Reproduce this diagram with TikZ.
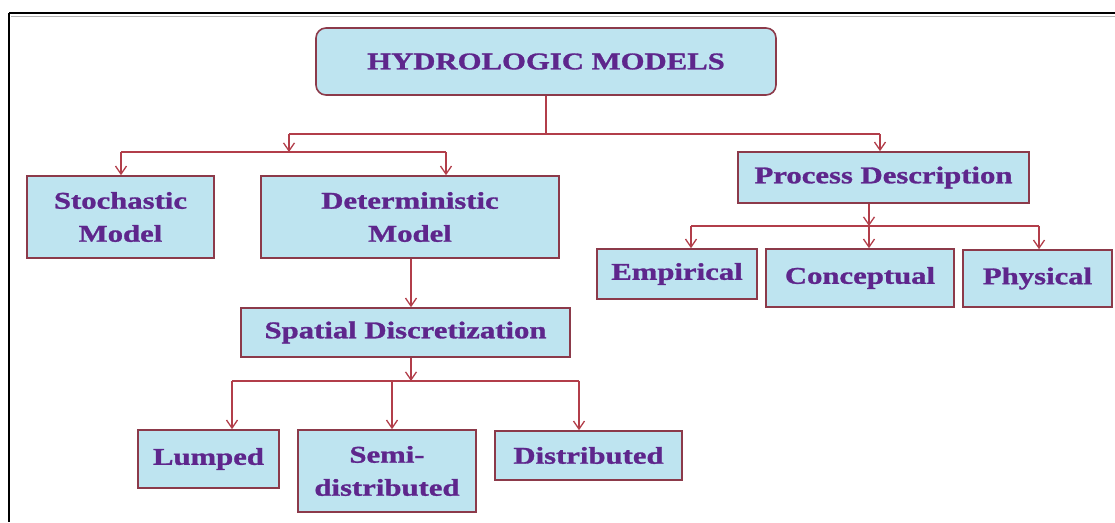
\documentclass[tikz,border=0pt]{standalone}
\usepackage{fontspec}
\newfontfamily\lblfont{Liberation Serif}[FakeStretch=1.28,FakeBold=1.2]
\usetikzlibrary{arrows.meta}
\definecolor{boxfill}{RGB}{190,228,240}
\definecolor{boxline}{RGB}{140,58,74}
\definecolor{conn}{RGB}{178,62,74}
\definecolor{txt}{RGB}{94,38,140}
\tikzset{
  x=1pt, y=-1pt,
  mbox/.style={draw=boxline, line width=1.6pt, fill=boxfill, inner sep=0pt,
    align=center, text=txt, font=\lblfont\bfseries\fontsize{24}{33}\selectfont},
  link/.style={draw=conn, line width=1.3pt},
  arr/.style={link, -{Straight Barb[length=8pt,width=11pt,line width=1.3pt]}},
}
\begin{document}
\begin{tikzpicture}
\useasboundingbox (0,0) rectangle (1115,522);
% frame
\draw[gray!60, line width=1pt] (11,16) -- (1115,16);
\draw[black, line width=2.5pt] (9,13) -- (1115,13);
\draw[black, line width=2pt] (9,13) -- (9,522);

% nodes
\node[mbox, rounded corners=10pt, minimum width=460pt, minimum height=67pt] (top) at (546,61.5) {HYDROLOGIC MODELS};
\node[mbox, minimum width=187pt, minimum height=82pt] (stoch) at (120.5,217) {Stochastic\\Model};
\node[mbox, minimum width=298pt, minimum height=82pt] (det) at (410,217) {Deterministic\\Model};
\node[mbox, minimum width=329pt, minimum height=49pt] (spat) at (405.5,332.5) {Spatial Discretization};
\node[mbox, minimum width=141pt, minimum height=58pt] (lump) at (208.5,459) {Lumped};
\node[mbox, minimum width=178pt, minimum height=82pt] (semi) at (387,471) {Semi-\\distributed};
\node[mbox, minimum width=187pt, minimum height=49pt] (dist) at (588.5,455.5) {Distributed};
\node[mbox, minimum width=291pt, minimum height=51pt] (proc) at (883.5,177.5) {Process Description};
\node[mbox, minimum width=160pt, minimum height=50pt] (emp) at (677,274) {Empirical};
\node[mbox, minimum width=188pt, minimum height=58pt] (conc) at (860,278) {Conceptual};
\node[mbox, minimum width=149pt, minimum height=57pt] (phys) at (1037.5,278.5) {Physical};

% junction coordinates
\coordinate (hA) at (289,134);
\coordinate (hB) at (880,134);
\coordinate (hM) at (546,134);
\coordinate (gA) at (121,152);
\coordinate (gB) at (446,152);
\coordinate (gM) at (289,152);
\coordinate (sA) at (232,381);
\coordinate (sB) at (392,381);
\coordinate (sC) at (579,381);
\coordinate (sM) at (411,381);
\coordinate (pA) at (691,226);
\coordinate (pB) at (869,226);
\coordinate (pC) at (1039,226);

% connectors from top
\draw[link] (top.south) -- (hM);
\draw[link] (hA) -- (hB);
\draw[arr] (hA) -- (gM);
\draw[arr] (hB) -- (hB |- proc.north);
\draw[link] (gA) -- (gB);
\draw[arr] (gA) -- (gA |- stoch.north);
\draw[arr] (gB) -- (gB |- det.north);

% deterministic branch
\draw[arr] (sM |- det.south) -- (sM |- spat.north);
\draw[arr] (sM |- spat.south) -- (sM);
\draw[link] (sA) -- (sC);
\draw[arr] (sA) -- (sA |- lump.north);
\draw[arr] (sB) -- (sB |- semi.north);
\draw[arr] (sC) -- (sC |- dist.north);

% process branch
\draw[arr] (pB |- proc.south) -- (pB);
\draw[link] (pA) -- (pC);
\draw[arr] (pA) -- (pA |- emp.north);
\draw[arr] (pB) -- (pB |- conc.north);
\draw[arr] (pC) -- (pC |- phys.north);
\end{tikzpicture}
\end{document}
